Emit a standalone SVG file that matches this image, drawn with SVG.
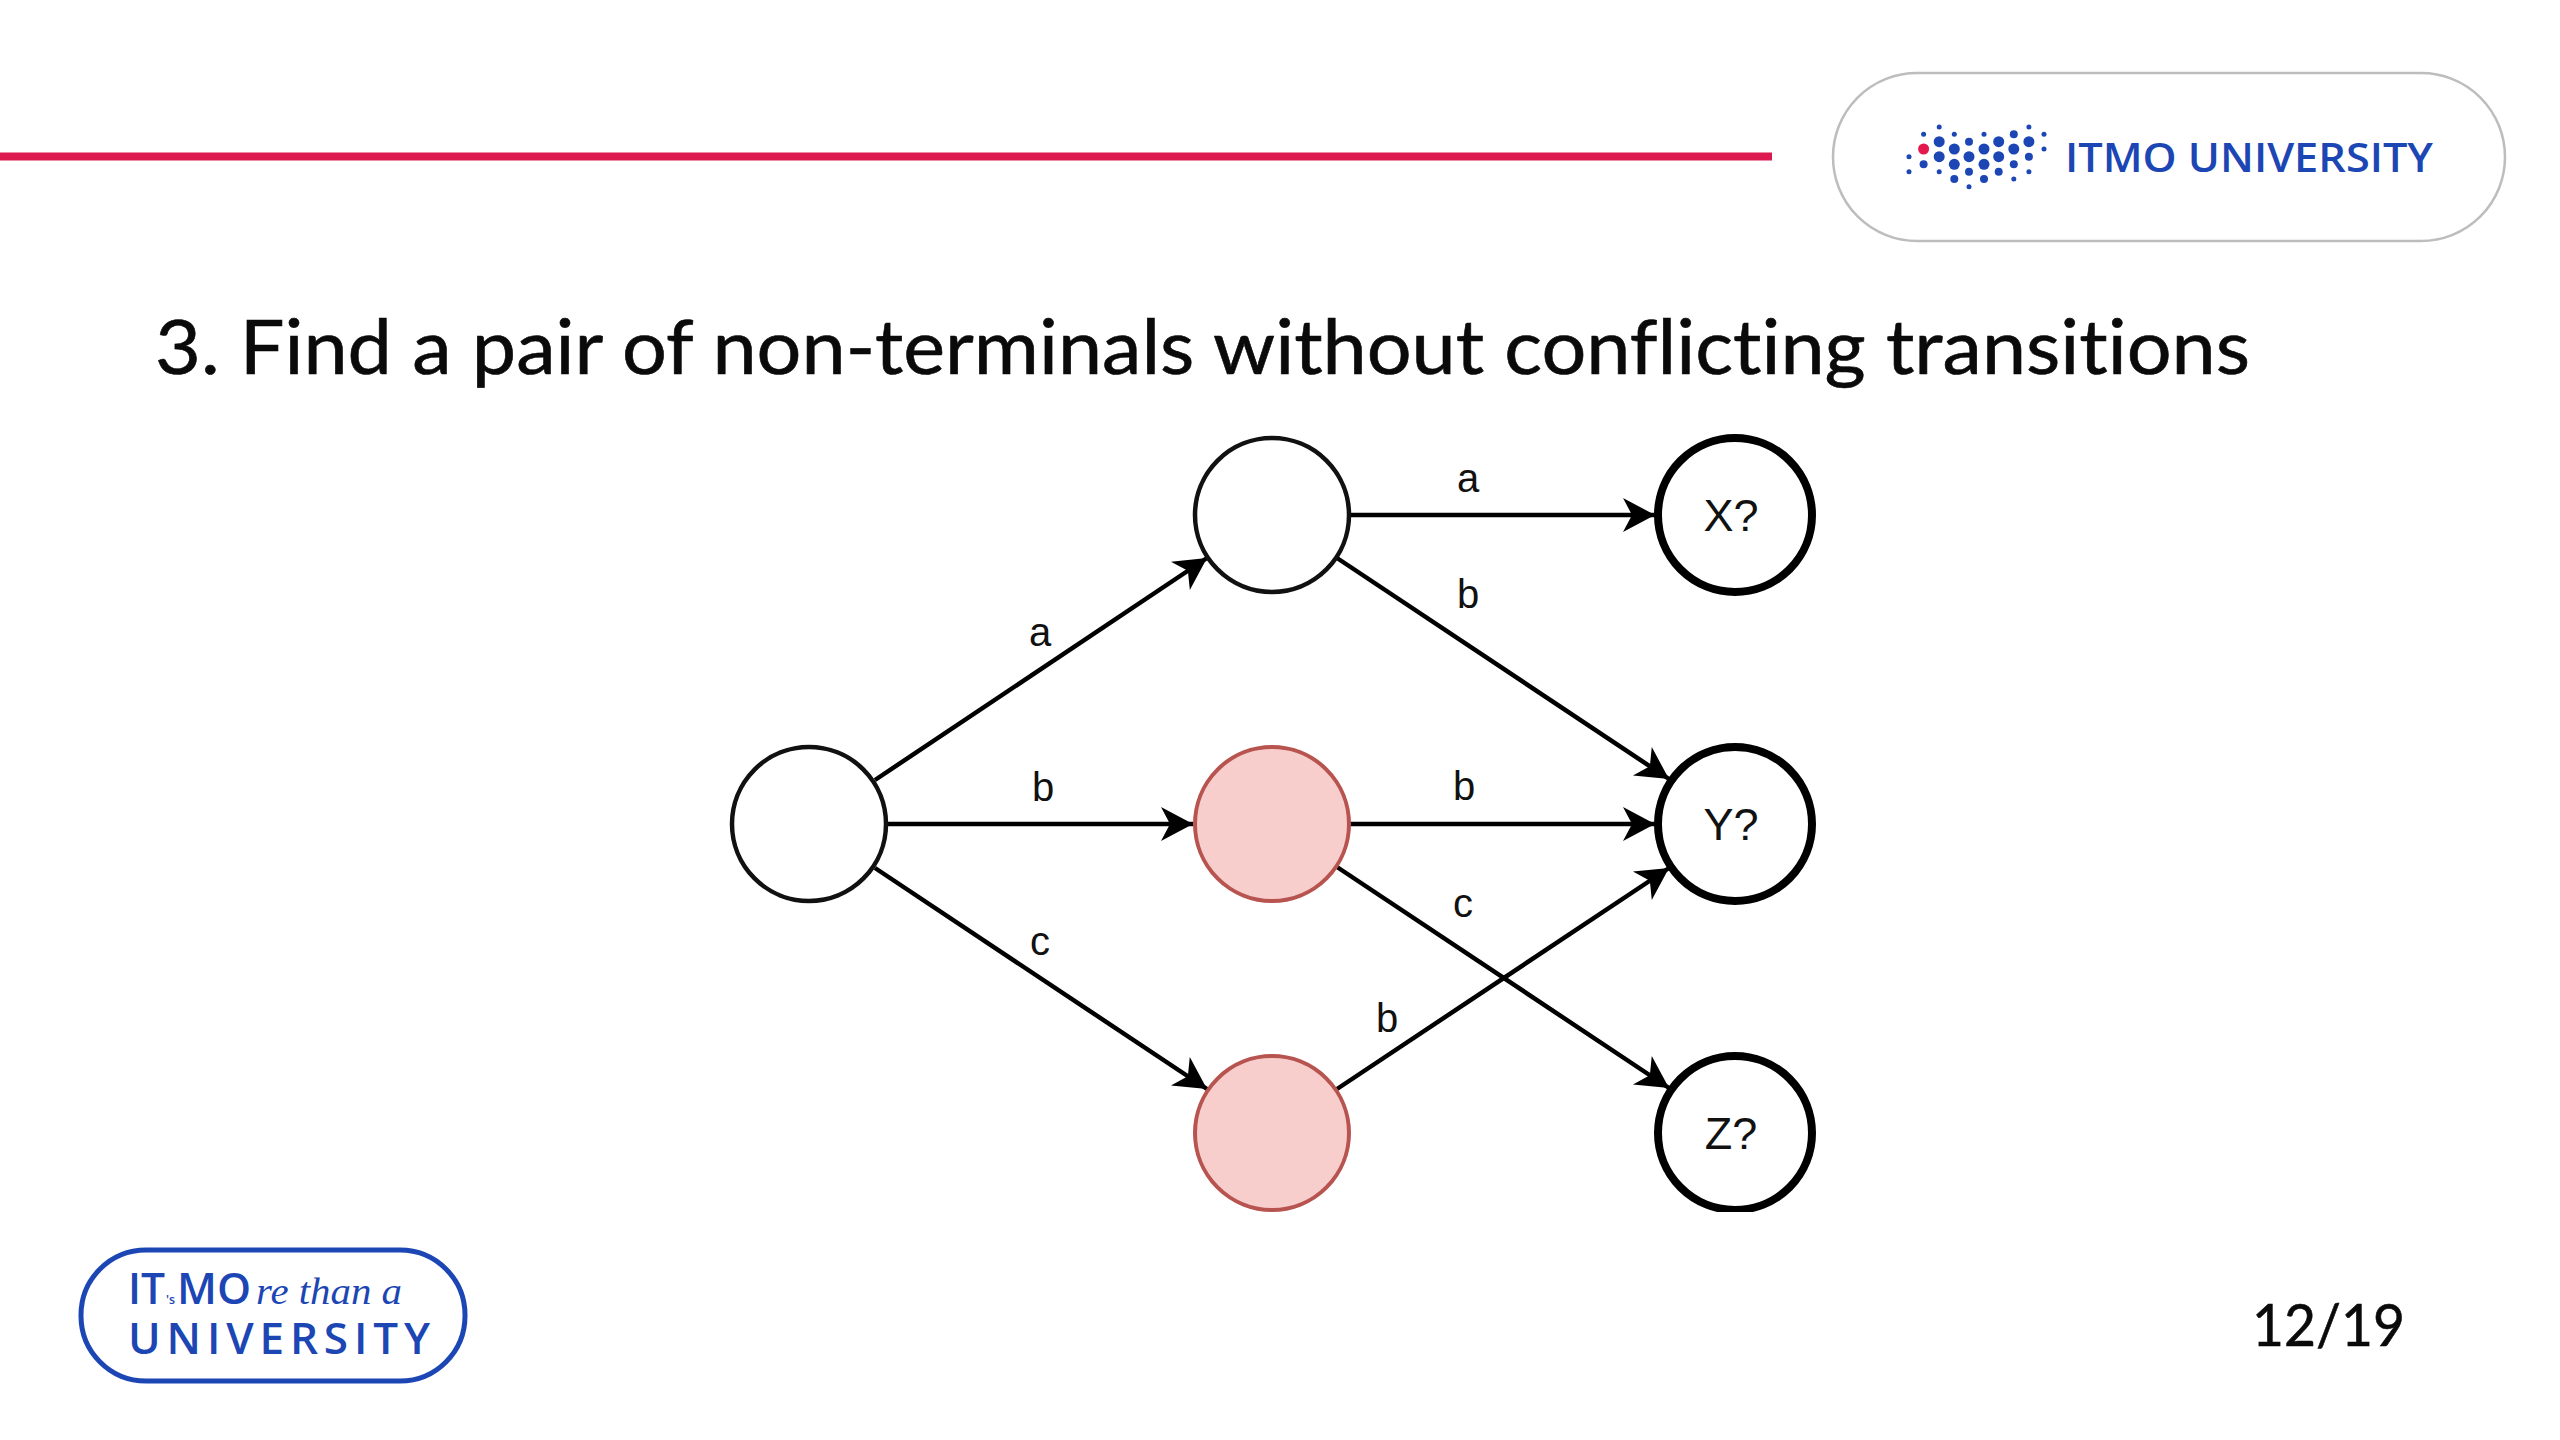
<svg xmlns="http://www.w3.org/2000/svg" width="2560" height="1440" viewBox="0 0 2560 1440">
<style>
text{font-family:"Liberation Sans",Arial,sans-serif}
.title,.page{font-family:Lato,"Open Sans",sans-serif;fill:#0a0a0a;font-variant-ligatures:none;stroke:#0a0a0a;stroke-width:.6}
.lbl{font-size:40px;fill:#111;text-anchor:middle}
.nlbl{font-size:45px;fill:#111;text-anchor:middle}
.node{fill:#fff;stroke:#111;stroke-width:4.5}
.pink{fill:#f8cecc;stroke:#b85450;stroke-width:4}
.term{fill:#fff;stroke:#000;stroke-width:8}
.edge{stroke:#000;stroke-width:4.5;fill:none;marker-end:url(#arrow)}
.lg{font-family:"Open Sans",Lato,sans-serif;font-weight:600;fill:#1c46b4}
.d{fill:#1c46b4}
</style>
<defs>
<marker id="arrow" markerUnits="userSpaceOnUse" markerWidth="36" markerHeight="36" refX="32" refY="18" orient="auto" overflow="visible"><path d="M0 1 L32 18 L0 35 L9 18 Z" fill="#000"/></marker>
<clipPath id="crop"><rect x="0" y="0" width="2560" height="1212"/></clipPath>
</defs>
<rect width="2560" height="1440" fill="#fff"/>
<line x1="0" y1="156.5" x2="1772" y2="156.5" stroke="#dc1a50" stroke-width="8"/>
<g id="logo-top">
<rect x="1833" y="73" width="672" height="168" rx="84" fill="#fff" stroke="#bdbdbd" stroke-width="2.5"/>
<g class="d">
<circle cx="1923.6" cy="134.3" r="2.5"/><circle cx="1939.2" cy="127" r="2.5"/><circle cx="1954.3" cy="134.3" r="2.5"/><circle cx="1984" cy="134.3" r="2.5"/><circle cx="2013.8" cy="134.3" r="4"/><circle cx="2028.9" cy="127" r="2.5"/><circle cx="2044" cy="134.3" r="2.5"/>
<circle cx="1939.2" cy="141.7" r="5.5"/><circle cx="1969" cy="141.7" r="4"/><circle cx="1998.7" cy="141.7" r="5.5"/><circle cx="2028.9" cy="141.7" r="5.5"/>
<circle cx="1954.3" cy="149" r="5.5"/><circle cx="1984" cy="149" r="5.5"/><circle cx="2013.8" cy="149" r="5.5"/><circle cx="2044" cy="149" r="2.5"/>
<circle cx="1909" cy="156.7" r="2.5"/><circle cx="1939.2" cy="156.7" r="5.5"/><circle cx="1969" cy="156.7" r="5.5"/><circle cx="1998.7" cy="156.7" r="5.5"/><circle cx="2028.9" cy="156.7" r="4"/>
<circle cx="1923.6" cy="164.3" r="4"/><circle cx="1954.3" cy="164.3" r="5.5"/><circle cx="1984" cy="164.3" r="5.5"/><circle cx="2013.8" cy="164.3" r="4"/>
<circle cx="1909" cy="171.7" r="2.5"/><circle cx="1939.2" cy="171.7" r="2.5"/><circle cx="1969" cy="171.7" r="4"/><circle cx="1998.7" cy="171.7" r="4"/><circle cx="2028.9" cy="171.7" r="2.5"/>
<circle cx="1954.3" cy="179" r="4"/><circle cx="1984" cy="179" r="4"/><circle cx="2013.8" cy="179" r="2.5"/>
<circle cx="1969" cy="186.7" r="2.5"/>
</g>
<circle cx="1923.6" cy="149" r="5.5" fill="#e5184e"/>
<text class="lg" x="2065" y="172" font-size="40" textLength="368" lengthAdjust="spacingAndGlyphs">ITMO UNIVERSITY</text>
</g>
<text class="title" x="155" y="374" font-size="75" textLength="2095" lengthAdjust="spacingAndGlyphs">3. Find a pair of non-terminals without conflicting transitions</text>
<g id="connectors">
<path class="edge" d="M875 780 L1207 558"/>
<path class="edge" d="M887 824 L1193 824"/>
<path class="edge" d="M875 868 L1207 1089"/>
<path class="edge" d="M1350 515 L1655 515"/>
<path class="edge" d="M1337 558 L1669 779"/>
<path class="edge" d="M1350 824 L1655 824"/>
<path class="edge" d="M1337 867 L1669 1088"/>
<path class="edge" d="M1337 1089 L1669 868"/>
</g>
<g id="labels" class="lbl">
<text x="1040" y="646">a</text>
<text x="1043" y="801">b</text>
<text x="1040" y="955">c</text>
<text x="1468" y="492">a</text>
<text x="1468" y="608">b</text>
<text x="1464" y="800">b</text>
<text x="1463" y="917">c</text>
<text x="1387" y="1032">b</text>
</g>
<g id="n-start"><circle class="node" cx="809" cy="824" r="77"/></g>
<g id="n-top"><circle class="node" cx="1272" cy="515" r="77"/></g>
<g id="n-mid"><circle class="pink" cx="1272" cy="824" r="77"/></g>
<g id="n-bot"><circle class="pink" cx="1272" cy="1133" r="77"/></g>
<g id="n-x"><circle class="term" cx="1735" cy="515" r="77"/><text class="nlbl" x="1731" y="531">X?</text></g>
<g id="n-y"><circle class="term" cx="1735" cy="824" r="77"/><text class="nlbl" x="1731" y="840">Y?</text></g>
<g id="n-z" clip-path="url(#crop)"><circle class="term" cx="1735" cy="1133" r="77"/><text class="nlbl" x="1731" y="1149">Z?</text></g>
<g id="logo-bottom">
<rect x="81" y="1250" width="384" height="131" rx="65" fill="#fff" stroke="#1c46b4" stroke-width="5"/>
<text class="lg" x="128" y="1304" font-size="44" textLength="37" lengthAdjust="spacingAndGlyphs">IT</text>
<text class="lg" x="166" y="1304" font-size="13" textLength="9" lengthAdjust="spacingAndGlyphs">'s</text>
<text class="lg" x="177" y="1304" font-size="44" textLength="74" lengthAdjust="spacingAndGlyphs">MO</text>
<text x="256" y="1304" font-size="38" fill="#1c46b4" textLength="146" lengthAdjust="spacingAndGlyphs" style="font-family:'Liberation Serif',serif;font-style:italic">re than a</text>
<text class="lg" x="128" y="1354" font-size="44" textLength="302" lengthAdjust="spacing">UNIVERSITY</text>
</g>
<text class="page" x="2252" y="1346" font-size="58" textLength="153" lengthAdjust="spacingAndGlyphs">12/19</text>
</svg>
